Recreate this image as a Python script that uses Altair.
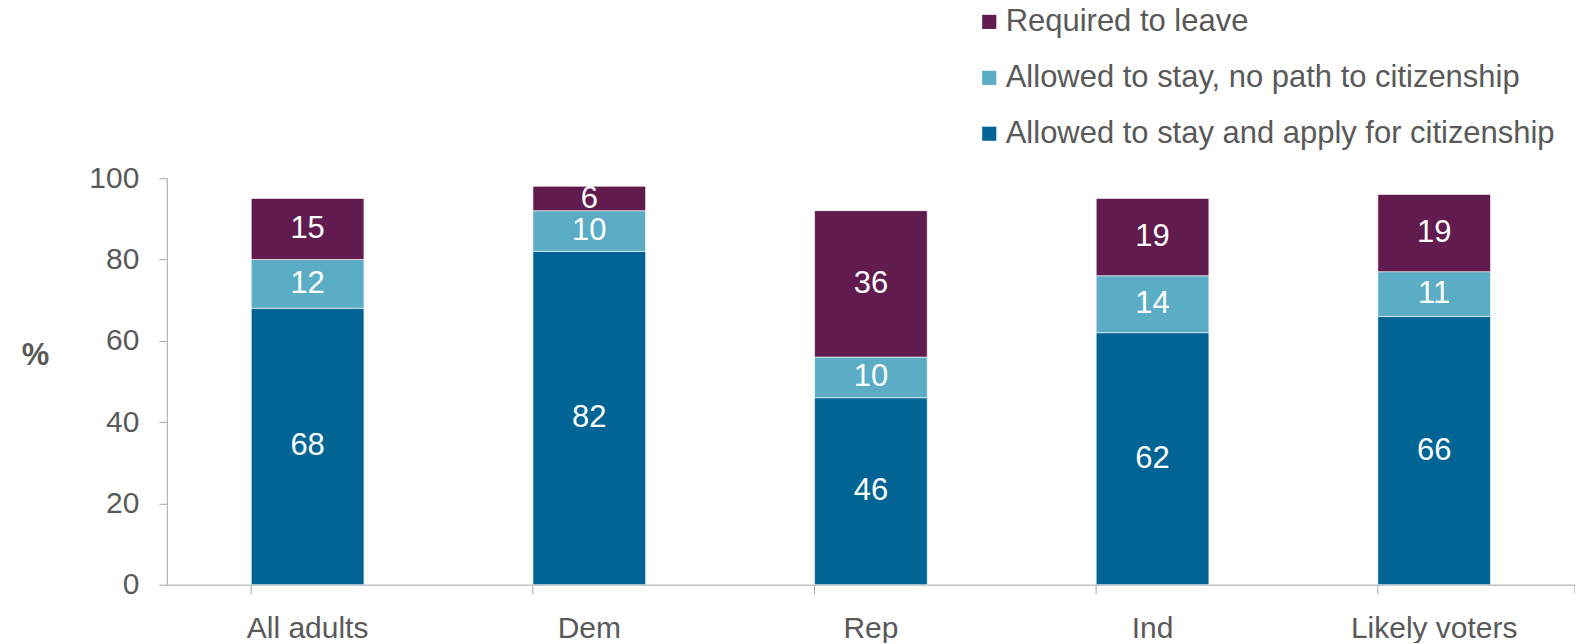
import altair as alt
import pandas as pd

groups = ["All adults", "Dem", "Rep", "Ind", "Likely voters"]
series = ["Allowed to stay and apply for citizenship", "Allowed to stay, no path to citizenship", "Required to leave"]
apply_vals = [68, 82, 46, 62, 66]
nopath_vals = [12, 10, 10, 14, 11]
leave_vals = [15, 6, 36, 19, 19]
colors = ["#006495", "#5BADC5", "#621B4E"]

rows = []
for i, g in enumerate(groups):
    for k, (s, vals) in enumerate(zip(series, [apply_vals, nopath_vals, leave_vals])):
        rows.append({"group": g, "series": s, "value": vals[i], "order": k})
df = pd.DataFrame(rows)

legend_order = [series[2], series[1], series[0]]

base = alt.Chart(df).transform_stack(
    stack="value", groupby=["group"], as_=["y0", "y1"], sort=[alt.SortField("order", order="ascending")]
).transform_calculate(mid="(datum.y0 + datum.y1) / 2")

x_enc = alt.X("group:N", sort=groups, title=None,
              scale=alt.Scale(paddingInner=0.6, paddingOuter=0.3),
              axis=alt.Axis(labelAngle=0, labelFontSize=30, labelColor="#595959", labelFont="Liberation Sans",
                            tickSize=9, tickColor="#A6A6A6", domainColor="#A6A6A6", labelPadding=20,
                            bandPosition=0, grid=False))

bars = base.mark_bar(stroke="white", strokeWidth=0.6).encode(
    x=x_enc,
    y=alt.Y("y0:Q", title="%", scale=alt.Scale(domain=[0, 100]),
            axis=alt.Axis(values=[0, 20, 40, 60, 80, 100], labelFontSize=30, labelColor="#595959",
                          labelFont="Liberation Sans", tickSize=8, tickColor="#A6A6A6", domainColor="#A6A6A6",
                          labelPadding=20, grid=False, titleAngle=0, titleFontSize=31, titleFont="Liberation Sans",
                          titleColor="#595959", titleFontWeight="bold", titleX=-132, titleY=178,
                          titleAlign="center", titleBaseline="middle")),
    y2="y1:Q",
    color=alt.Color("series:N", scale=alt.Scale(domain=series, range=colors),
                    legend=alt.Legend(title=None, orient="none", legendX=808, legendY=-172,
                                      values=legend_order, symbolType="square", symbolSize=200,
                                      symbolStrokeWidth=0, labelFontSize=31, labelFont="Liberation Sans",
                                      labelColor="#595959", labelLimit=1000, rowPadding=24, padding=0,
                                      labelOffset=1, symbolOpacity=1)),
)

labels = base.mark_text(color="white", fontSize=31, font="Liberation Sans", baseline="middle").encode(
    x=alt.X("group:N", sort=groups),
    y=alt.Y("mid:Q"),
    text=alt.Text("value:Q"),
)

end_tick = alt.Chart(pd.DataFrame({"a": [0]})).mark_rule(color="#A6A6A6").encode(
    x=alt.value(1410), y=alt.value(407), y2=alt.value(416)
)

chart = alt.layer(bars, labels, end_tick).properties(
    width=1410, height=407,
    autosize=alt.AutoSizeParams(type="none"),
    padding={"left": 159, "top": 170, "right": 0, "bottom": 58},
).configure_view(stroke=None)

chart.save("out.html", embed_options={"renderer": "svg", "actions": False})
